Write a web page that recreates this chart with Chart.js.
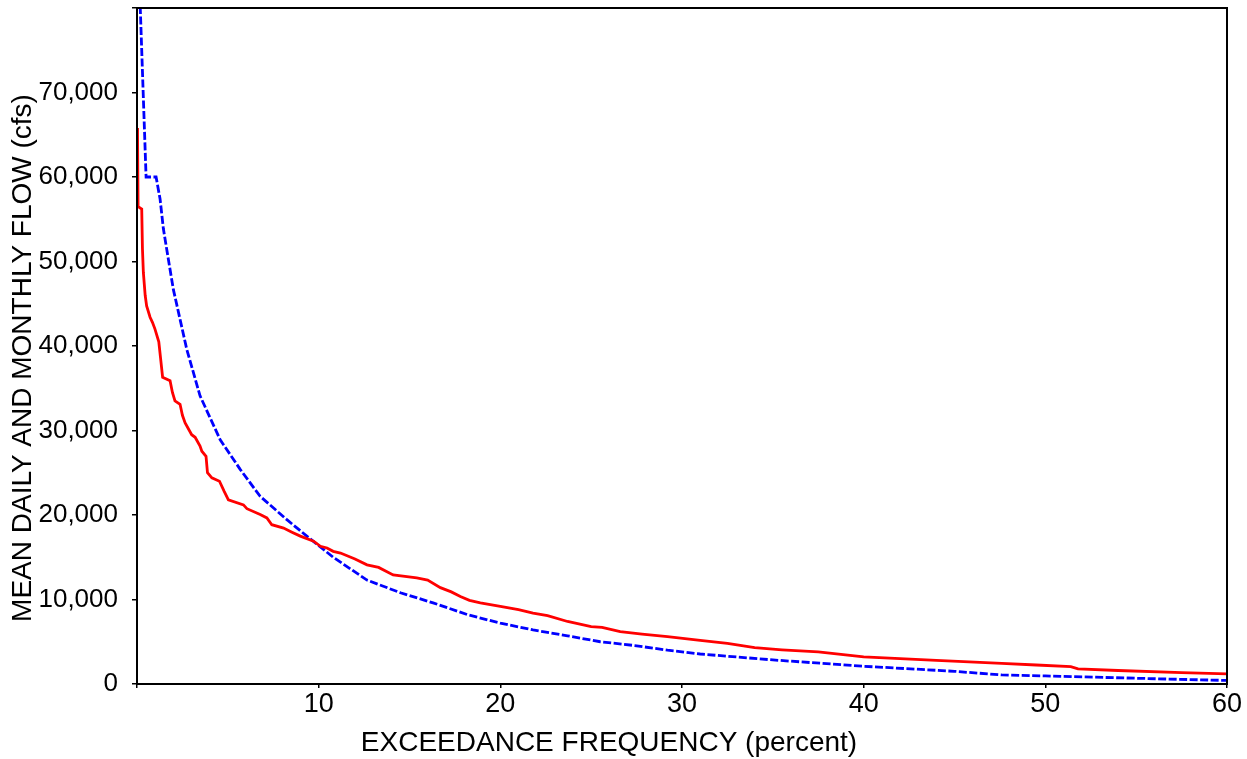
<!DOCTYPE html>
<html>
<head>
<meta charset="utf-8">
<script src="https://cdn.jsdelivr.net/npm/chart.js@4"></script>
<style>
  html, body { margin: 0; padding: 0; background: #fff; }
  #wrap { width: 1247px; height: 759px; }
</style>
</head>
<body>
<div id="wrap"><canvas id="myChart"></canvas></div>
<script>
// daily flow duration (red, solid)
const dailyX = [0, 0.03, 0.06, 0.26, 0.3, 0.35, 0.45, 0.53, 0.72, 0.85, 0.99, 1.2, 1.3, 1.41, 1.82, 1.95, 2.09, 2.37, 2.5, 2.65,
    3.01, 3.2, 3.47, 3.57, 3.8, 3.88, 4.12, 4.54, 4.8, 5.03, 5.86, 6.05, 6.78, 7.15, 7.42, 8.07, 8.5, 8.99, 9.72, 10.1,
    10.46, 10.8, 11.2, 12.0, 12.66, 13.3, 14.1, 15.4, 16.0, 16.7, 17.3, 17.8, 18.3, 18.9, 20.0, 21.0, 21.8, 22.6, 23.7, 25.0,
    25.6, 26.6, 27.8, 29.2, 31.0, 32.5, 34.0, 35.5, 37.5, 39.0, 40.0, 42.0, 44.0, 45.5, 47.6, 49.5, 51.4, 51.8, 54.0, 57.5, 60.0]
const dailyFlow = [65800, 65000, 56500, 56200, 51500, 48700, 46000, 44750, 43400, 42800, 42000, 40500, 38500, 36300, 35900, 34500, 33500, 33100, 31800, 30900,
    29500, 29200, 28150, 27550, 26950, 25000, 24400, 24000, 22800, 21800, 21200, 20750, 20050, 19650, 18850, 18450, 18000, 17500, 16900, 16300,
    16100, 15700, 15500, 14800, 14100, 13800, 12900, 12550, 12300, 11400, 10900, 10350, 9900, 9600, 9200, 8800, 8400, 8100, 7400, 6800,
    6700, 6200, 5900, 5600, 5150, 4800, 4300, 4050, 3800, 3450, 3200, 3000, 2800, 2650, 2450, 2250, 2050, 1780, 1600, 1350, 1190]

// monthly flow duration (blue, dashed)
const monthlyX = [0.05, 0.18, 0.5, 1.05, 1.27, 1.45, 1.67, 2.0, 2.74, 3.47, 4.58, 5.68, 6.78, 8.25, 9.35, 10.8, 12.66, 14.5, 16.3, 18.2,
    20.0, 21.8, 23.7, 25.5, 27.4, 29.2, 31.0, 35.0, 40.0, 45.0, 47.6, 50.0, 55.0, 60.0]
const monthlyFlow = [120000, 80000, 60000, 60000, 57400, 53900, 51000, 46700, 39600, 34100, 28900, 25400, 22200, 19450, 17500, 15000, 12300, 10800, 9600, 8200,
    7200, 6400, 5700, 5000, 4550, 4000, 3550, 2850, 2100, 1500, 1070, 950, 680, 420]

const xTitle = "EXCEEDANCE FREQUENCY (percent)"
const yTitle = "MEAN DAILY AND MONTHLY FLOW (cfs)"

const font = "'Liberation Sans', Arial, sans-serif"

// frame around the plot + axis titles placed like the original
const frame = {
    id: "frame",
    afterDraw(chart) {
        const {ctx, chartArea: a} = chart
        ctx.save()
        ctx.strokeStyle = "#000"
        ctx.lineWidth = 2
        ctx.strokeRect(a.left, a.top, a.right - a.left, a.bottom - a.top)
        ctx.fillStyle = "#000"
        ctx.font = "28px " + font
        ctx.textAlign = "center"
        ctx.textBaseline = "middle"
        ctx.fillText(xTitle, 609, 743)
        ctx.translate(23, 358)
        ctx.rotate(-Math.PI / 2)
        ctx.fillText(yTitle, 0, 0)
        ctx.restore()
    }
}

const ctx = document.getElementById("myChart").getContext("2d")
new Chart(ctx, {
    type: "line",
    data: {
        datasets: [{
            label: "Daily",
            data: dailyX.map((x, i) => ({x: x, y: dailyFlow[i]})),
            borderColor: "#ff0000",
            borderWidth: 2.8,
            pointRadius: 0,
            tension: 0
        }, {
            label: "Monthly",
            data: monthlyX.map((x, i) => ({x: x, y: monthlyFlow[i]})),
            borderColor: "#0000ff",
            borderWidth: 2.8,
            borderDash: [8, 2.5],
            pointRadius: 0,
            tension: 0
        }]
    },
    options: {
        responsive: true,
        maintainAspectRatio: false,
        animation: false,
        layout: {padding: {left: 0, top: 8, right: 20, bottom: 0}},
        plugins: {legend: {display: false}, tooltip: {enabled: false}},
        scales: {
            x: {
                type: "linear",
                min: 0, max: 60,
                afterFit: s => { s.height = 75; s.paddingLeft = 0; s.paddingRight = 0 },
                grid: {drawOnChartArea: false, color: "#000", lineWidth: 1.5, tickLength: 4},
                border: {color: "#000", width: 2},
                ticks: {
                    stepSize: 10, color: "#000", padding: 0,
                    font: {family: font, size: 27},
                    maxRotation: 0,
                    callback: v => v === 0 ? "" : v
                }
            },
            y: {
                min: 0, max: 80000,
                afterFit: s => { s.width = 137; s.paddingTop = 0; s.paddingBottom = 0 },
                grid: {drawOnChartArea: false, color: "#000", lineWidth: 1.5, tickLength: 5},
                border: {color: "#000", width: 2},
                ticks: {
                    stepSize: 10000, color: "#000", padding: 14,
                    font: {family: font, size: 26},
                    callback: v => v === 80000 ? "" : v.toLocaleString("en-US")
                }
            }
        }
    },
    plugins: [frame]
})
</script>
</body>
</html>
